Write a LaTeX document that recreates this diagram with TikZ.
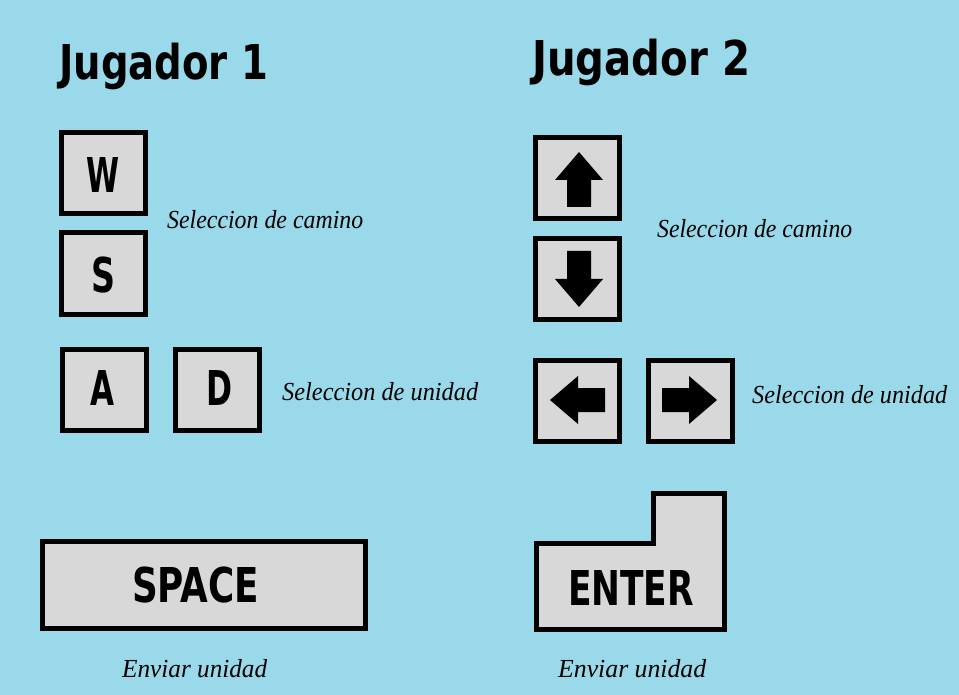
\documentclass[tikz,border=0pt]{standalone}
\usepackage{fontspec}
\newfontfamily\keyfont{DejaVu Sans}
\newfontfamily\labelfont{Liberation Serif}
\definecolor{bg}{RGB}{153,217,234}
\definecolor{keygray}{RGB}{216,216,216}
\newcommand\kt[2]{\resizebox{#1}{\height}{\keyfont\bfseries\fontsize{48}{48}\selectfont #2}}
\newcommand\lt[2]{\resizebox{#1}{\height}{\labelfont\itshape\fontsize{26}{26}\selectfont #2}}
\tikzset{
  keybox/.style={draw=black, line width=5pt, fill=keygray, minimum width=84pt, minimum height=81pt, inner sep=0pt},
  keylbl/.style={inner sep=0pt, text=black},
  lbl/.style={inner sep=0pt, anchor=base west, text=black},
  arrowshape/.style={fill=black, draw=none},
}
\begin{document}
\begin{tikzpicture}[x=1pt,y=-1pt]
\fill[bg] (0,0) rectangle (959,695);
\useasboundingbox (0,0) rectangle (959,695);

% titles
\node[lbl] (t1) at (59,80) {\kt{209pt}{Jugador 1}};
\node[lbl] (t2) at (532,76) {\kt{218pt}{Jugador 2}};

% player 1 keys
\node[keybox] (w) at (103.5,173) {};
\node[keybox] (s) at (103.5,273.5) {};
\node[keybox] (a) at (104.5,390) {};
\node[keybox] (d) at (217.5,390) {};
\node[keybox, minimum width=323pt, minimum height=87pt] (space) at (204,585) {};

\node[keylbl] (wl) at (102.5,175.5) {\kt{33pt}{W}};
\node[keylbl] (sl) at (103.5,275) {\kt{24pt}{S}};
\node[keylbl] (al) at (102,388.5) {\kt{24pt}{A}};
\node[keylbl] (dl) at (219,388.5) {\kt{26pt}{D}};
\node[keylbl] (spl) at (195.5,585.5) {\kt{127pt}{SPACE}};

% player 2 keys
\node[keybox] (up) at (577.5,178.5) {};
\node[keybox] (down) at (577.5,279) {};
\node[keybox] (left) at (577.5,401) {};
\node[keybox] (right) at (690.5,401) {};

\fill[arrowshape] (579,152) -- (603,180) -- (591,180) -- (591,207) -- (567,207) -- (567,180) -- (555,180) -- cycle;
\fill[arrowshape] (579,307) -- (603,279) -- (591,279) -- (591,251) -- (567,251) -- (567,279) -- (555,279) -- cycle;
\fill[arrowshape] (550,400) -- (578,376) -- (578,388) -- (605,388) -- (605,412) -- (578,412) -- (578,424) -- cycle;
\fill[arrowshape] (717,400) -- (689,376) -- (689,388) -- (662,388) -- (662,412) -- (689,412) -- (689,424) -- cycle;

% enter key
\draw[line width=5pt, fill=keygray, line join=miter] (536.5,543.5) -- (653.5,543.5) -- (653.5,493.5) -- (724.5,493.5) -- (724.5,629.5) -- (536.5,629.5) -- cycle;
\node[keylbl] (entl) at (631,588) {\kt{126pt}{ENTER}};

% labels
\node[lbl] (cam1) at (167,229) {\lt{196pt}{Seleccion de camino}};
\node[lbl] (uni1) at (282,400) {\lt{196pt}{Seleccion de unidad}};
\node[lbl] (cam2) at (657,237) {\lt{195pt}{Seleccion de camino}};
\node[lbl] (uni2) at (752,403) {\lt{195pt}{Seleccion de unidad}};
\node[lbl] (env1) at (122,677) {\lt{145pt}{Enviar unidad}};
\node[lbl] (env2) at (558,677) {\lt{148pt}{Enviar unidad}};
\end{tikzpicture}
\end{document}
